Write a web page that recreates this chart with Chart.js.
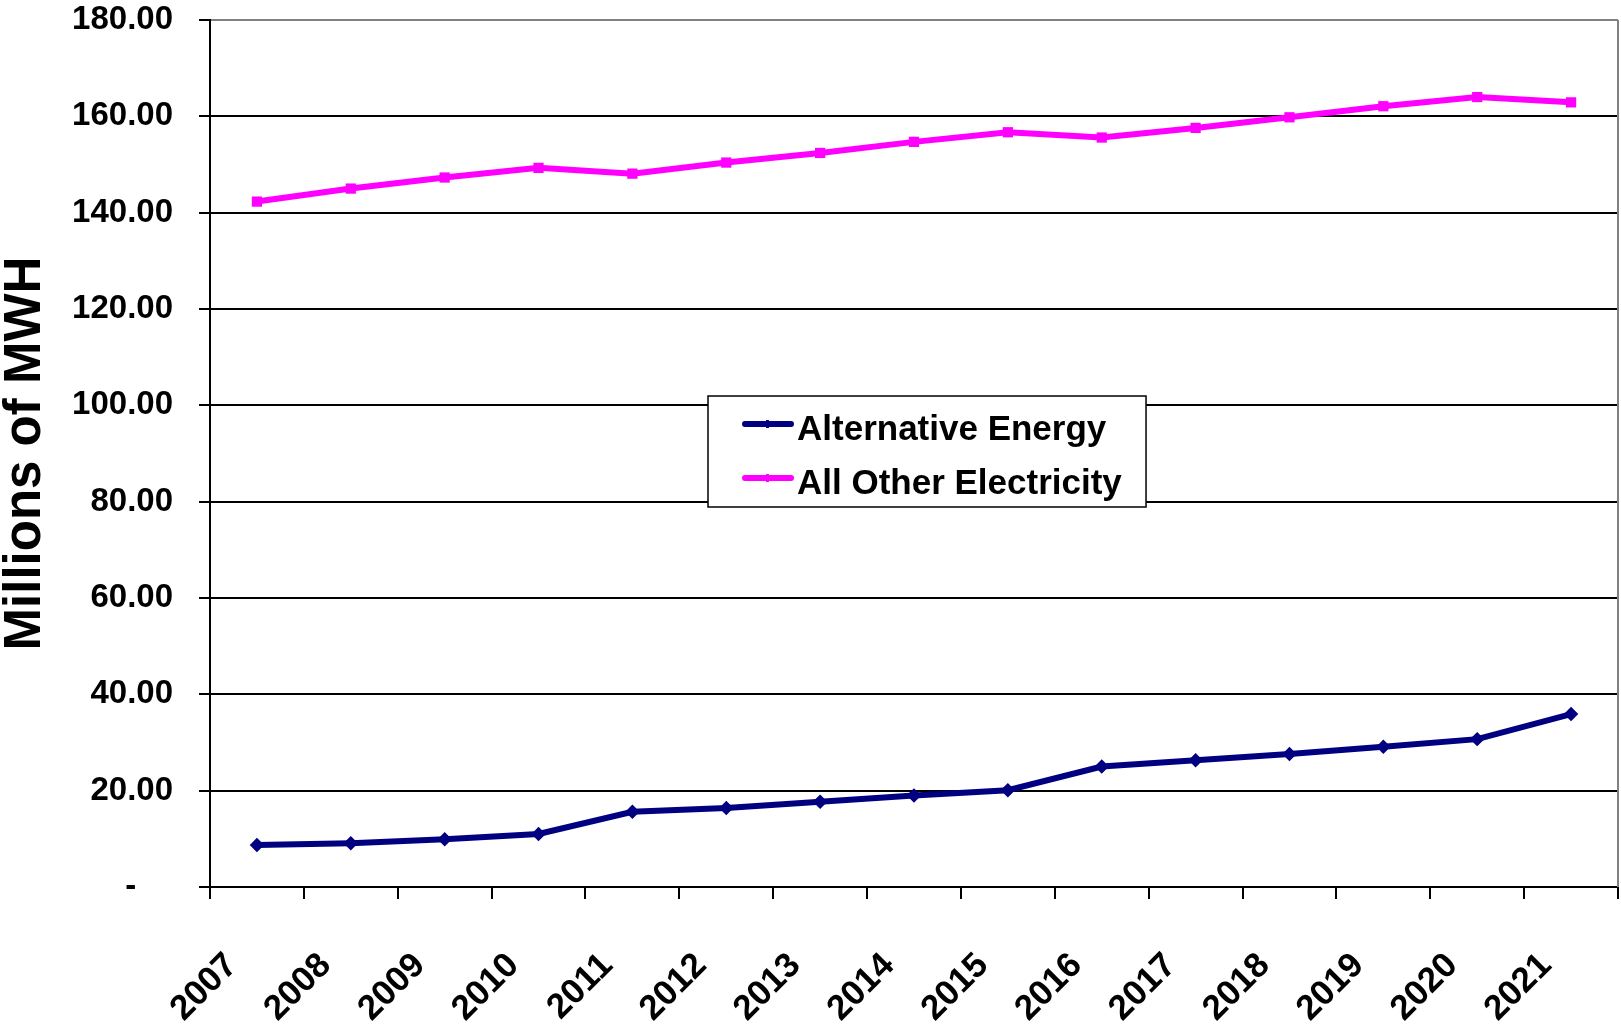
<!DOCTYPE html>
<html lang="en">
<head>
<meta charset="UTF-8">
<title>Millions of MWH</title>
<script src="https://cdn.jsdelivr.net/npm/chart.js"></script>
<style>
  html, body { margin: 0; padding: 0; background: #fff; overflow: hidden; }
  canvas { display: block; }
</style>
</head>
<body>
<canvas id="chart" width="1621" height="1028"></canvas>
<script>
const years = ['2007', '2008', '2009', '2010', '2011', '2012', '2013', '2014',
               '2015', '2016', '2017', '2018', '2019', '2020', '2021'];
const alternativeEnergy = [8.7, 9.1, 9.9, 11.0, 15.6, 16.4, 17.7, 19.0,
                           20.1, 25.0, 26.3, 27.6, 29.1, 30.7, 35.9];
const allOtherElectricity = [142.3, 145.0, 147.3, 149.3, 148.1, 150.4, 152.4, 154.7,
                             156.7, 155.6, 157.6, 159.8, 162.1, 164.0, 162.9];
const yTicks = [0, 20, 40, 60, 80, 100, 120, 140, 160, 180];

Chart.defaults.font.family = '"Liberation Sans", Arial, sans-serif';
Chart.defaults.font.weight = 'bold';
Chart.defaults.color = '#000';

// legend box drawn inside the plot, like the Excel original
const legendBox = {
  id: 'legendBox',
  afterDatasetsDraw(chart) {
    const { ctx, chartArea: a } = chart;
    const w = a.right - a.left, h = a.bottom - a.top;
    const x0 = a.left + w * 0.3537, x1 = a.left + w * 0.6648;
    const y0 = a.top + h * 0.4337, y1 = a.top + h * 0.5617;
    ctx.save();
    ctx.fillStyle = '#fff';
    ctx.fillRect(x0, y0, x1 - x0, y1 - y0);
    ctx.strokeStyle = '#000';
    ctx.lineWidth = 1.5;
    ctx.strokeRect(x0, y0, x1 - x0, y1 - y0);
    chart.data.datasets.forEach((ds, i) => {
      const ly = y0 + 28 + i * 54;
      ctx.strokeStyle = ds.borderColor;
      ctx.lineWidth = 6;
      ctx.lineCap = 'round';
      ctx.beginPath();
      ctx.moveTo(x0 + 37, ly);
      ctx.lineTo(x0 + 83, ly);
      ctx.stroke();
      ctx.fillStyle = ds.borderColor;
      ctx.fillRect(x0 + 58, ly - 4, 3, 8);
      ctx.fillStyle = '#000';
      ctx.font = 'bold 35px "Liberation Sans", Arial, sans-serif';
      ctx.textAlign = 'left';
      ctx.textBaseline = 'alphabetic';
      ctx.fillText(ds.label, x0 + 89, ly + 16);
    });
    ctx.restore();
  }
};

// thin grey frame on the right side of the plot area
const plotFrame = {
  id: 'plotFrame',
  beforeDatasetsDraw(chart) {
    const { ctx, chartArea: a } = chart;
    ctx.save();
    ctx.strokeStyle = '#808080';
    ctx.lineWidth = 2;
    ctx.beginPath();
    ctx.moveTo(a.right, a.top);
    ctx.lineTo(a.right, a.bottom);
    ctx.stroke();
    ctx.restore();
  }
};

new Chart(document.getElementById('chart').getContext('2d'), {
  type: 'line',
  data: {
    labels: years,
    datasets: [
      {
        label: 'Alternative Energy',
        data: alternativeEnergy,
        borderColor: '#000080',
        backgroundColor: '#000080',
        borderWidth: 6,
        pointStyle: 'rectRot',
        pointRadius: 3,
        tension: 0
      },
      {
        label: 'All Other Electricity',
        data: allOtherElectricity,
        borderColor: '#FF00FF',
        backgroundColor: '#FF00FF',
        borderWidth: 6,
        pointStyle: 'rect',
        pointRadius: 3,
        tension: 0
      }
    ]
  },
  options: {
    responsive: false,
    animation: false,
    devicePixelRatio: 1,
    layout: { autoPadding: false, padding: { top: 20, right: 3, left: 0, bottom: 0 } },
    plugins: {
      legend: { display: false },
      tooltip: { enabled: false }
    },
    scales: {
      x: {
        offset: true,
        grid: {
          offset: true,
          drawOnChartArea: false,
          drawTicks: true,
          tickLength: 12,
          color: '#000',
          lineWidth: 2
        },
        border: { display: true, color: '#000', width: 2 },
        ticks: {
          autoSkip: false,
          minRotation: 45,
          maxRotation: 45,
          padding: 46,
          labelOffset: -25,
          font: { size: 35, weight: 'bold' }
        },
        afterFit(scale) {
          scale.height = 141;
          scale.paddingLeft = 0;
          scale.paddingRight = 0;
        }
      },
      y: {
        min: 0,
        max: 180,
        afterBuildTicks(scale) { scale.ticks = yTicks.map(v => ({ value: v })); },
        grid: {
          color: ctx => (ctx.tick && ctx.tick.value === 180) ? '#808080' : '#000',
          tickColor: '#000',
          lineWidth: 2,
          drawTicks: true,
          tickLength: 11
        },
        border: { display: true, color: '#000', width: 2 },
        ticks: {
          padding: 26,
          font: { size: 33, weight: 'bold' },
          callback: v => v === 0 ? '-    ' : v.toFixed(2)
        },
        title: {
          display: true,
          text: 'Millions of MWH',
          font: { size: 51, weight: 'bold', lineHeight: 1 },
          padding: { top: 0, bottom: 0 }
        },
        afterFit(scale) {
          scale.width = 210;
          scale.paddingTop = 0;
          scale.paddingBottom = 0;
          scale.paddingLeft = 0;
          scale.paddingRight = 0;
        }
      }
    }
  },
  plugins: [plotFrame, legendBox]
});
</script>
</body>
</html>
